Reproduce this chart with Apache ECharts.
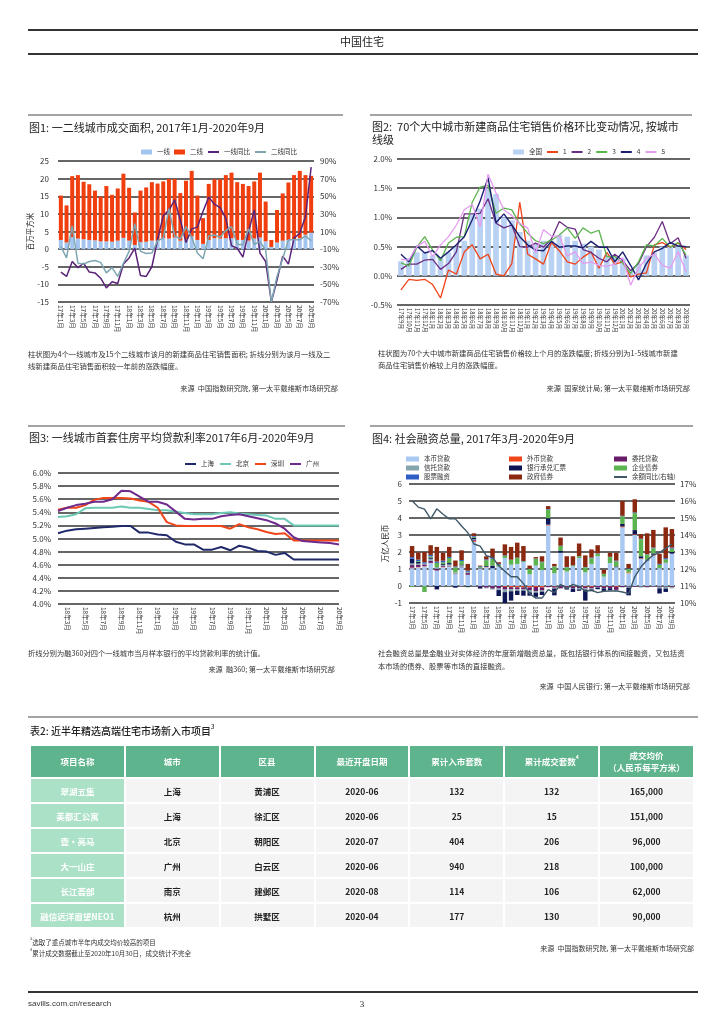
<!DOCTYPE html>
<html><head><meta charset="utf-8">
<script src="https://cdn.jsdelivr.net/npm/echarts@6/dist/echarts.min.js"></script>
<style>
body{margin:0;width:724px;height:1024px;background:#fff;font-family:"Noto Sans CJK SC","Noto Sans",sans-serif;color:#222;position:relative;overflow:hidden}
#chart{position:absolute;left:0;top:0;width:724px;height:1024px}
.t{position:absolute;white-space:nowrap;line-height:1.25}
.ln{position:absolute}
#tbl{position:absolute;left:30px;top:745px;width:664px;border-collapse:separate;border-spacing:0;table-layout:fixed}
#tbl td,#tbl th{border:1px solid #fff;text-align:center;padding:0;font-size:8.5px;font-weight:700}
#tbl th{background:#5eb48c;color:#fff;height:31px;line-height:1.3}
#tbl td{background:#f4f4f4;color:#222;height:23px}
#tbl td.n{background:#abe2c7;color:#fff;font-weight:600}
sup{font-size:60%;vertical-align:top;position:relative;top:-2px}
</style></head>
<body>
<div id="chart"></div>
<table id="tbl"></table>
<script>
// ---------- DATA ----------
const f1Months=['17年1月','17年2月','17年3月','17年4月','17年5月','17年6月','17年7月','17年8月','17年9月','17年10月','17年11月','17年12月','18年1月','18年2月','18年3月','18年4月','18年5月','18年6月','18年7月','18年8月','18年9月','18年10月','18年11月','18年12月','19年1月','19年2月','19年3月','19年4月','19年5月','19年6月','19年7月','19年8月','19年9月','19年10月','19年11月','19年12月','20年1月','20年2月','20年3月','20年4月','20年5月','20年6月','20年7月','20年8月','20年9月'];
const f1Tier1=[2.6,1.9,3.4,3.0,2.8,2.6,2.5,2.2,2.2,2.1,2.4,3.2,2.4,1.2,2.0,2.1,2.4,2.4,3.2,3.0,3.3,2.4,2.8,3.6,2.6,1.5,2.6,3.1,3.0,3.1,3.1,2.6,2.6,2.4,3.0,3.3,2.2,0.6,1.9,2.4,2.6,2.8,3.1,4.1,4.7];
const f1Tier2=[12.6,10.5,17.3,18.0,16.3,15.8,14.1,12.7,15.7,13.3,14.8,18.2,15.0,9.2,14.6,15.4,16.6,16.2,16.0,16.9,16.6,13.5,16.6,18.6,12.6,7.3,15.9,16.7,16.8,17.9,18.6,16.4,15.9,15.5,16.2,18.4,11.3,2.0,9.2,13.4,16.3,18.2,19.1,16.9,16.1];
const f1Yoy1=[-36,-41,-24,-31,-26,-36,-37,-43,-54,-47,-49,-27,-20,-9,-40,-41,-30,0.5,28,34,46,23,-2.5,13,15,33,49,41,37,25,-6,-9,-19,10,34.5,-14.5,-24,-70,-45,-18,-27,2.5,8,27,83];
const f1Yoy2=[-7,-20,16.5,-26,-27,-24,-23,-25,-37,-31,-41,-26,-12.5,19,-12.5,-15,-14.5,-0.5,2.5,36,5,1.5,15.5,3.5,-14.5,-21,5,6,3.5,11,15.5,-4.5,-5,13,-4.5,-1.5,-11,-70,-41,-21,0.5,0.5,0.5,5,-0.5];

const f2Months=['17年9月','17年10月','17年11月','17年12月','18年1月','18年2月','18年3月','18年4月','18年5月','18年6月','18年7月','18年8月','18年9月','18年10月','18年11月','18年12月','19年1月','19年2月','19年3月','19年4月','19年5月','19年6月','19年7月','19年8月','19年9月','19年10月','19年11月','19年12月','20年1月','20年2月','20年3月','20年4月','20年5月','20年6月','20年7月','20年8月','20年9月'];
const f2National=[0.25,0.3,0.4,0.4,0.35,0.3,0.4,0.5,0.6,1.05,1.15,1.5,1.4,1.0,0.95,0.75,0.6,0.55,0.6,0.6,0.7,0.67,0.6,0.55,0.5,0.45,0.35,0.35,0.3,0.1,0.2,0.35,0.4,0.5,0.5,0.5,0.35];
const f2Tier1=[-0.24,-0.06,-0.08,-0.06,-0.15,-0.38,0.1,0.03,0.41,0.53,0.29,0.37,0.03,0.0,0.21,1.26,0.37,0.29,0.2,0.57,0.43,0.24,0.2,0.32,0.41,0.13,0.4,0.2,0.24,-0.02,0.03,0.05,0.53,0.57,0.49,0.56,0.45];
const f2Tier2=[0.11,0.2,0.2,0.27,0.28,0.11,0.21,0.41,1.06,1.06,1.07,1.32,0.9,0.82,0.87,0.5,0.49,0.56,0.49,0.63,0.93,0.83,0.8,0.45,0.4,0.3,0.24,0.37,0.26,0.09,0.21,0.5,0.66,0.93,0.55,0.65,0.3];
const f2Tier3=[0.22,0.17,0.49,0.67,0.44,0.26,0.56,0.66,0.67,1.26,1.52,1.55,1.07,1.16,1.13,0.89,0.73,0.6,0.55,0.61,0.7,0.82,0.64,0.82,0.73,0.78,0.33,0.33,0.22,0.04,0.24,0.53,0.51,0.64,0.49,0.57,0.36];
const f2Tier4=[0.37,0.24,0.51,0.39,0.43,0.3,0.41,0.53,0.67,0.96,1.28,1.68,0.91,1.06,0.87,0.67,0.53,0.44,0.43,0.59,0.49,0.51,0.51,0.48,0.59,0.49,0.49,0.24,0.41,0.18,-0.07,0.21,0.41,0.47,0.57,0.51,0.5];
const f2Tier5=[0.28,0.27,0.5,0.59,0.33,0.53,0.67,0.87,1.13,1.22,0.84,1.74,1.42,1.13,1.03,0.9,0.82,0.39,0.79,0.68,0.68,0.34,0.41,0.21,0.24,0.18,0.16,0.2,0.31,-0.16,0.13,0.3,0.37,0.18,0.13,0.41,0.07];

const f3Months=['18年2月','18年3月','18年4月','18年5月','18年6月','18年7月','18年8月','18年9月','18年10月','18年11月','18年12月','19年1月','19年2月','19年3月','19年4月','19年5月','19年6月','19年7月','19年8月','19年9月','19年10月','19年11月','19年12月','20年1月','20年2月','20年3月','20年4月','20年5月','20年6月','20年7月','20年8月','20年9月'];
const f3Shanghai=[5.08,5.12,5.14,5.15,5.16,5.17,5.18,5.19,5.19,5.09,5.09,5.06,5.05,4.95,4.91,4.91,4.83,4.83,4.87,4.82,4.89,4.86,4.81,4.80,4.75,4.78,4.68,4.68,4.68,4.68,4.68,4.68];
const f3Beijing=[5.33,5.34,5.37,5.46,5.47,5.47,5.47,5.49,5.47,5.47,5.45,5.43,5.43,5.41,5.39,5.37,5.37,5.37,5.39,5.40,5.38,5.37,5.36,5.35,5.30,5.30,5.20,5.20,5.20,5.20,5.20,5.20];
const f3Shenzhen=[5.44,5.47,5.47,5.51,5.59,5.62,5.62,5.62,5.61,5.58,5.56,5.47,5.25,5.20,5.19,5.19,5.19,5.19,5.19,5.15,5.22,5.17,5.14,5.10,5.07,5.08,4.97,4.97,4.97,4.97,4.97,4.97];
const f3Guangzhou=[5.42,5.47,5.51,5.53,5.56,5.56,5.60,5.73,5.72,5.64,5.56,5.56,5.52,5.41,5.30,5.29,5.30,5.30,5.34,5.36,5.37,5.34,5.31,5.28,5.23,5.15,5.02,4.96,4.95,4.94,4.93,4.91];

const f4Months=['17年3月','17年4月','17年5月','17年6月','17年7月','17年8月','17年9月','17年10月','17年11月','17年12月','18年1月','18年2月','18年3月','18年4月','18年5月','18年6月','18年7月','18年8月','18年9月','18年10月','18年11月','18年12月','19年1月','19年2月','19年3月','19年4月','19年5月','19年6月','19年7月','19年8月','19年9月','19年10月','19年11月','19年12月','20年1月','20年2月','20年3月','20年4月','20年5月','20年6月','20年7月','20年8月','20年9月'];
const f4Loans=[1.05,1.10,1.15,1.35,0.90,1.10,1.15,0.70,1.10,0.65,2.60,1.00,1.10,1.05,1.15,1.65,1.25,1.30,1.40,0.70,1.20,0.95,3.55,0.75,1.95,0.85,1.15,1.65,0.80,1.30,1.75,0.55,1.35,1.10,3.45,0.75,3.00,1.60,1.50,1.80,1.05,1.35,1.90];
const f4FxLoans=[.03,.02,.02,.01,.01,.02,.01,0,-.01,.01,.05,.02,.02,-.01,0,-.05,-.07,-.08,-.08,-.08,-.06,-.08,.03,-.03,-.01,-.02,-.03,0,-.04,-.05,0,-.03,-.02,-.05,.05,.05,.04,.03,-.02,.04,0,.02,-.02];
const f4Entrusted=[.15,.12,.10,.12,.10,.05,.03,.03,.02,.10,.05,-.05,-.10,-.15,-.15,-.16,-.12,-.12,-.12,-.16,-.24,-.18,-.07,-.07,-.13,-.08,-.09,-.12,-.10,-.09,-.07,-.09,-.10,-.18,-.06,-.04,-.05,-.03,-.04,-.04,-.04,-.03,-.05];
const f4Trust=[.10,.08,.05,.12,.10,.07,.08,.07,.10,.08,.05,.04,-.04,-.05,-.09,-.15,-.12,-.08,-.07,-.13,-.09,-.07,.03,-.05,.01,-.03,-.03,-.08,-.07,-.06,-.02,-.02,-.01,-.07,-.03,-.06,-.01,-.06,-.03,-.02,-.10,-.12,-.07];
const f4Bills=[.27,.10,0,.08,-.20,.05,.08,-.10,.05,-.05,.10,-.10,.05,.15,-.35,-.75,-.55,-.25,-.30,-.20,-.25,-.20,.38,-.40,.10,-.08,-.20,-.08,-.65,-.10,-.10,-.15,-.12,.05,.15,-.45,.25,.12,.05,.08,-.30,-.20,.10];
const f4Bonds=[-.05,.05,-.35,.07,.25,.10,.30,.30,.20,-.03,.05,.05,.35,.40,.10,.12,.28,.35,.05,.30,.40,.45,.50,.40,.30,.25,.05,.10,.30,.33,.15,.15,.35,.30,.45,.20,1.00,1.00,.30,.30,.20,.20,.20];
const f4Equity=[.10,.08,.08,.08,.08,.10,.06,.05,.06,.06,.05,.05,.05,.05,.05,.03,.02,.02,.02,.02,.02,.03,.03,.01,.01,.02,.02,.01,.02,.04,.02,.02,.02,.04,.03,.04,.04,.03,.02,.04,.05,.07,.06];
const f4Govt=[.65,.42,.60,.57,.86,.46,.59,.35,.57,.40,.15,.04,.18,.55,.10,.65,.75,.88,.88,.18,.08,.32,.18,.14,.48,.63,.53,.74,.68,.48,.48,.23,.23,.46,.87,.26,.77,.27,1.23,1.04,.60,1.81,1.09];
const f4Yoy=[16.01,15.64,15.52,14.95,15.54,15.22,14.95,14.95,14.53,14.14,13.47,13.35,12.78,12.68,12.19,11.87,11.54,11.54,11.14,10.55,10.29,10.29,10.79,10.61,11.10,10.85,11.10,10.98,10.69,10.75,10.61,10.69,10.71,10.71,10.65,10.55,11.54,12.13,12.52,12.82,12.96,13.21,13.47];

const tHeaders=['项目名称','城市','区县','最近开盘日期','累计入市套数','累计成交套数<sup>4</sup>','成交均价<br>（人民币每平方米）'];
const tNames=['翠湖五集','美都汇公寓','壹·亮马','大一山庄','长江荟部','融信远洋眉望NEO1'];
const tCities=['上海','上海','北京','广州','南京','杭州'];
const tDistricts=['黄浦区','徐汇区','朝阳区','白云区','建邺区','拱墅区'];
const tDates=['2020-06','2020-06','2020-07','2020-06','2020-08','2020-04'];
const tUnits=[132,25,404,940,114,177];
const tSold=[132,15,206,218,106,130];
const tPrice=['165,000','151,000','96,000','100,000','62,000','90,000'];

// ---------- PAGE TEXT ----------
function T(txt,x,y,size,o){o=o||{};const d=document.createElement('div');d.className='t';d.innerHTML=txt;d.style.fontSize=size+'px';d.style.top=y+'px';let tx='0';
 if(o.align==='right'){d.style.right=(724-x)+'px';}else if(o.align==='center'){d.style.left=x+'px';tx='-50%';}else d.style.left=x+'px';
 d.style.transform='translate('+tx+',-50%)';if(o.color)d.style.color=o.color;if(o.weight)d.style.fontWeight=o.weight;if(o.family)d.style.fontFamily=o.family;document.body.appendChild(d);}
function L(x,y,w,h,c){const d=document.createElement('div');d.className='ln';d.style.cssText='left:'+x+'px;top:'+y+'px;width:'+w+'px;height:'+h+'px;background:'+c;document.body.appendChild(d);}
L(28,29,670,2,'#333');L(28,53,670,2,'#333');
T('中国住宅',362,42,11,{align:'center'});
L(28,114,315,2,'#a3a3a3');L(370,114,322,2,'#a3a3a3');
L(28,425,317,2,'#a3a3a3');L(370,425,323,2,'#a3a3a3');
L(28,716,670,2,'#a3a3a3');L(28,991,670,2,'#333');
T('图1: 一二线城市成交面积, 2017年1月-2020年9月',29,128,11);
T('图2:&nbsp; 70个大中城市新建商品住宅销售价格环比变动情况, 按城市',372,127,11);
T('线级',372,140,11);
T('图3: 一线城市首套住房平均贷款利率2017年6月-2020年9月',29,438,11);
T('图4: 社会融资总量, 2017年3月-2020年9月',372,439,11);
const cc='#333';
T('柱状图为4个一线城市及15个二线城市该月的新建商品住宅销售面积; 折线分别为该月一线及二',28,354,7.35,{color:cc});
T('线新建商品住宅销售面积较一年前的涨跌幅度。',28,366,7.35,{color:cc});
T('来源&nbsp; 中国指数研究院, 第一太平戴维斯市场研究部',338,388,7.2,{align:'right',color:cc});
T('柱状图为70个大中城市新建商品住宅销售价格较上个月的涨跌幅度; 折线分别为1-5线城市新建',378,354,7.3,{color:cc});
T('商品住宅销售价格较上月的涨跌幅度。',378,366,7.3,{color:cc});
T('来源&nbsp; 国家统计局; 第一太平戴维斯市场研究部',690,388,7.2,{align:'right',color:cc});
T('折线分别为融360对四个一线城市当月样本银行的平均贷款利率的统计值。',28,654,7.25,{color:cc});
T('来源&nbsp; 融360; 第一太平戴维斯市场研究部',335,669,7.2,{align:'right',color:cc});
T('社会融资总量是金融业对实体经济的年度新增融资总量，既包括银行体系的间接融资，又包括资',378,654,7.3,{color:cc});
T('本市场的债券、股票等市场的直接融资。',378,667,7.3,{color:cc});
T('来源&nbsp; 中国人民银行; 第一太平戴维斯市场研究部',690,686,7.2,{align:'right',color:cc});
T('表2: 近半年精选高端住宅市场新入市项目<sup>3</sup>',30,731,10,{weight:500});
T('<sup>3</sup>选取了重点城市半年内成交均价较高的项目',30,942,6.5,{color:cc});
T('<sup>4</sup>累计成交数据截止至2020年10月30日，成交统计不完全',30,953,6.5,{color:cc});
T('来源&nbsp; 中国指数研究院, 第一太平戴维斯市场研究部',694,948,7,{align:'right',color:cc});
T('savills.com.cn/research',28,1004,8,{color:'#333',family:'"Liberation Sans",sans-serif'});
T('3',362,1005,9,{align:'center',family:'"Liberation Serif",serif'});

// ---------- TABLE ----------
(function(){const tb=document.getElementById('tbl');let h='<tr>'+tHeaders.map(s=>'<th>'+s+'</th>').join('')+'</tr>';
 for(let i=0;i<tNames.length;i++){h+='<tr><td class="n">'+tNames[i]+'</td><td>'+tCities[i]+'</td><td>'+tDistricts[i]+'</td><td>'+tDates[i]+'</td><td>'+tUnits[i]+'</td><td>'+tSold[i]+'</td><td>'+tPrice[i]+'</td></tr>';}
 tb.innerHTML=h;})();

// ---------- CHART ----------
const FONT='"Noto Sans CJK SC","Noto Sans",sans-serif';
const SPL={show:true,lineStyle:{color:'#333',width:1.6}};
const AX={color:'#333',fontFamily:FONT,fontSize:8};
const XL=(o)=>Object.assign({color:'#333',fontFamily:FONT,fontSize:6.5,rotate:-90,margin:3},o);
const chart=echarts.init(document.getElementById('chart'));
const leg=(o)=>Object.assign({itemHeight:5,padding:0,textStyle:{fontSize:6.5,lineHeight:8,color:'#333',fontFamily:FONT},selectedMode:false},o);
const R=(n)=>({name:n,icon:'rect'});
const LN=(n)=>({name:n,itemStyle:{opacity:0}});
const bar=(name,xi,yi,stack,data,color,gap)=>({name,type:'bar',xAxisIndex:xi,yAxisIndex:yi,stack,data,itemStyle:{color},barCategoryGap:gap,animation:false});
const line=(name,xi,yi,data,color,w)=>({name,type:'line',xAxisIndex:xi,yAxisIndex:yi,data,symbol:'none',lineStyle:{color,width:w},itemStyle:{color},animation:false,z:5});

chart.setOption({
 animation:false,
 textStyle:{fontFamily:FONT},
 legend:[
  leg({left:141,top:148,itemWidth:11,itemGap:4,data:[R('一线'),R('二线'),LN('一线同比'),LN('二线同比')]}),
  leg({left:513,top:148,itemWidth:11,itemGap:4,data:[R('全国'),LN('1'),LN('2'),LN('3'),LN('4'),LN('5')]}),
  leg({left:184,top:460,itemWidth:11,itemGap:5,data:[LN('上海'),LN('北京'),LN('深圳'),LN('广州')]}),
  leg({left:406,top:455,orient:'vertical',itemWidth:13,itemGap:1,data:[R('本币贷款'),R('信托贷款'),R('股票融资')]}),
  leg({left:509,top:455,orient:'vertical',itemWidth:13,itemGap:1,data:[R('外币贷款'),R('银行承兑汇票'),R('政府债券')]}),
  leg({left:613,top:455,orient:'vertical',itemWidth:13,itemGap:1,data:[R('委托贷款'),R('企业债券'),LN('余额同比(右轴)')]})
 ],
 grid:[
  {left:58,top:161,width:256,height:141},
  {left:397,top:159,width:293,height:146},
  {left:58,top:473,width:281,height:131},
  {left:409,top:484,width:266,height:119}
 ],
 xAxis:[
  {type:'category',gridIndex:0,data:f1Months,axisLine:{show:false},axisTick:{show:false},axisLabel:XL({interval:1})},
  {type:'category',gridIndex:1,data:f2Months,axisLine:{show:false},axisTick:{show:false},axisLabel:XL({interval:0,fontSize:5.8})},
  {type:'category',gridIndex:2,data:f3Months,boundaryGap:false,axisLine:{show:false},axisTick:{show:false},axisLabel:XL({interval:(i)=>i%2===1})},
  {type:'category',gridIndex:3,data:f4Months,axisLine:{show:false},axisTick:{show:false},axisLabel:XL({interval:1})}
 ],
 yAxis:[
  {type:'value',gridIndex:0,min:-15,max:25,interval:5,splitLine:SPL,axisLine:{show:false},axisTick:{show:false},axisLabel:Object.assign({margin:9},AX),name:'百万平方米',nameLocation:'middle',nameGap:21,nameRotate:90,nameTextStyle:{fontSize:7.5,color:'#222'}},
  {type:'value',gridIndex:0,min:-70,max:90,interval:20,position:'right',splitLine:{show:false},axisLine:{show:false},axisTick:{show:false},axisLabel:Object.assign({margin:6,formatter:'{value}%'},AX)},
  {type:'value',gridIndex:1,min:-0.5,max:2.0,interval:0.5,splitLine:SPL,axisLine:{show:false},axisTick:{show:false},axisLabel:Object.assign({margin:5,fontSize:7.5,formatter:(v)=>v.toFixed(1)+'%'},AX)},
  {type:'value',gridIndex:2,min:4.0,max:6.0,interval:0.2,splitLine:SPL,axisLine:{show:false},axisTick:{show:false},axisLabel:Object.assign({margin:7,fontSize:7.5,formatter:(v)=>v.toFixed(1)+'%'},AX)},
  {type:'value',gridIndex:3,min:-1,max:6,interval:1,splitLine:SPL,axisLine:{show:false},axisTick:{show:false},axisLabel:Object.assign({margin:7},AX),name:'万亿人民币',nameLocation:'middle',nameGap:20,nameRotate:90,nameTextStyle:{fontSize:7.5,color:'#222'}},
  {type:'value',gridIndex:3,min:10,max:17,interval:1,position:'right',splitLine:{show:false},axisLine:{show:false},axisTick:{show:false},axisLabel:Object.assign({margin:5,formatter:'{value}%'},AX)}
 ],
 series:[
  bar('一线',0,0,'f1',f1Tier1,'#a3c4ee','30%'),
  bar('二线',0,0,'f1',f1Tier2,'#f03e0e','30%'),
  line('一线同比',0,1,f1Yoy1,'#5b2378',1.5),
  line('二线同比',0,1,f1Yoy2,'#7ea6b1',1.5),
  bar('全国',1,2,null,f2National,'#b9d1f2','28%'),
  line('1',1,2,f2Tier1,'#f0441a',1.3),
  line('2',1,2,f2Tier2,'#6b2d84',1.3),
  line('3',1,2,f2Tier3,'#5cb44e',1.3),
  line('4',1,2,f2Tier4,'#1b2070',1.4),
  line('5',1,2,f2Tier5,'#e59cf0',1.3),
  line('上海',2,3,f3Shanghai,'#202a6b',2),
  line('北京',2,3,f3Beijing,'#6cc9b5',2),
  line('深圳',2,3,f3Shenzhen,'#f0461a',2),
  line('广州',2,3,f3Guangzhou,'#6e2a8c',2),
  bar('本币贷款',3,4,'f4',f4Loans,'#a9c9f2','28%'),
  bar('外币贷款',3,4,'f4',f4FxLoans,'#f0461a','28%'),
  bar('委托贷款',3,4,'f4',f4Entrusted,'#6a1b6a','28%'),
  bar('信托贷款',3,4,'f4',f4Trust,'#85a5ad','28%'),
  bar('银行承兑汇票',3,4,'f4',f4Bills,'#0f1656','28%'),
  bar('企业债券',3,4,'f4',f4Bonds,'#5cb450','28%'),
  bar('股票融资',3,4,'f4',f4Equity,'#2e5ec4','28%'),
  bar('政府债券',3,4,'f4',f4Govt,'#8a2810','28%'),
  line('余额同比(右轴)',3,5,f4Yoy,'#3f5868',1.4)
 ]
});
</script>
</body></html>
